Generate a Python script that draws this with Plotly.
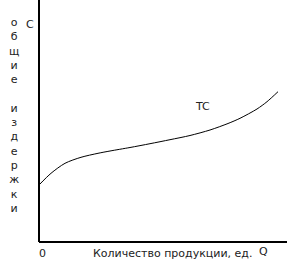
import plotly.graph_objects as go

# Quantity (output) and total cost values
quantity = [0, 12, 26, 42, 59, 71, 91, 111, 131, 151, 171, 189, 201, 218, 228, 239]
total_cost = [57, 68.7, 78.7, 84.7, 88.7, 91, 94.5, 98.3, 102.3, 106.5, 112, 118.5, 123.7, 133, 140.3, 150.3]

curve_label = "TC"
x_title = "Количество продукции, ед."
y_title_letters = list("общие") + [""] + list("издержки")
x_end_label = "Q"
y_end_label = "С"
origin_label = "0"

X_MAX = 248
Y_MAX = 242

fig = go.Figure()
fig.add_trace(go.Scatter(x=quantity, y=total_cost, mode="lines",
                         line=dict(color="black", width=1, shape="spline", smoothing=0.8),
                         hoverinfo="skip", showlegend=False))

font = dict(family="DejaVu Sans, Arial, sans-serif", size=11, color="#222")

# axes as shapes
fig.add_shape(type="line", x0=0, x1=0, y0=0, y1=Y_MAX, xref="x", yref="y",
              line=dict(color="black", width=2))
fig.add_shape(type="line", x0=0, x1=X_MAX, y0=0, y1=0, xref="x", yref="y",
              line=dict(color="black", width=2))

fig.add_annotation(x=163, y=136, text=curve_label, showarrow=False, font=font, xref="x", yref="y")
fig.add_annotation(x=133, y=-11, text=x_title, showarrow=False, font=font, xref="x", yref="y")
fig.add_annotation(x=224, y=-9, text=x_end_label, showarrow=False, font=font, xref="x", yref="y")
fig.add_annotation(x=3, y=-11, text=origin_label, showarrow=False, font=font, xref="x", yref="y")
fig.add_annotation(x=-9, y=218, text=y_end_label, showarrow=False, font=font, xref="x", yref="y")
fig.add_annotation(x=-25, y=126.5, text="<br>".join(y_title_letters), showarrow=False, font=font,
                   xref="x", yref="y", yanchor="middle", align="center")

fig.update_layout(
    width=287, height=272,
    margin=dict(l=0, r=0, t=0, b=0),
    paper_bgcolor="white", plot_bgcolor="white",
    xaxis=dict(range=[-39, X_MAX], visible=False, fixedrange=True),
    yaxis=dict(range=[-30, Y_MAX], visible=False, fixedrange=True),
)

fig.write_html("out.html")
